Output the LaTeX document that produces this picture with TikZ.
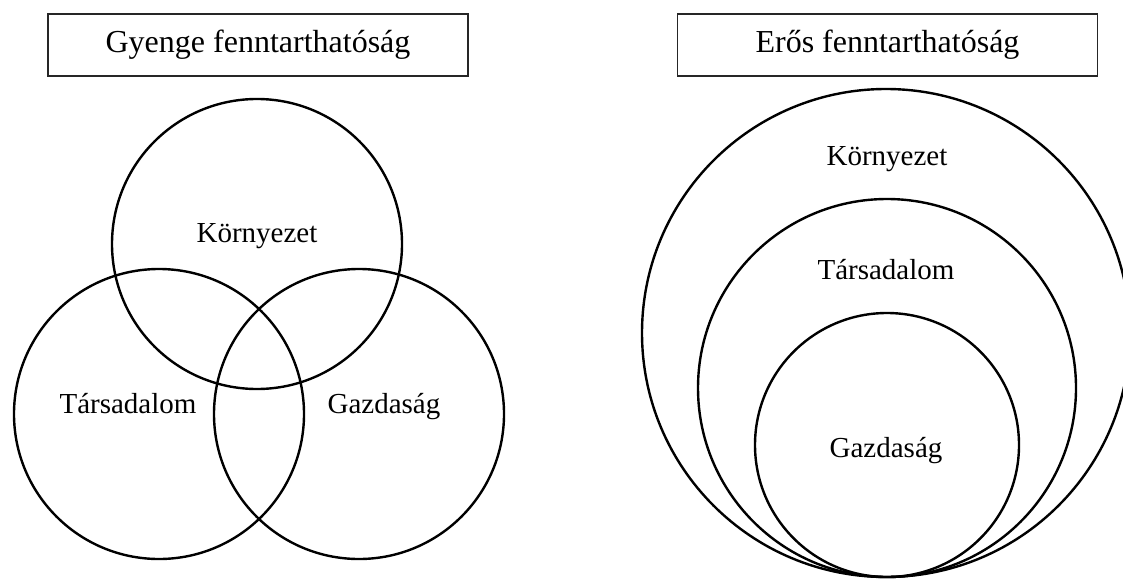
\documentclass[tikz,border=0pt]{standalone}
\usepackage{fontspec}
\setmainfont{Liberation Serif}
\begin{document}
\begin{tikzpicture}[x=1pt,y=-1pt,
  ring/.style={draw=black, line width=2.4pt, circle, inner sep=0pt},
  titlebox/.style={draw=black!85, line width=1.1pt, minimum width=420pt, minimum height=62pt, inner sep=0pt, font=\fontsize{32}{38}\selectfont},
  lbl/.style={font=\fontsize{29}{34}\selectfont, anchor=base, inner sep=0pt}]
\useasboundingbox (0,0) rectangle (1123,578);
\clip (0,0) rectangle (1123,578);
\fill[white] (0,0) rectangle (1123,578);

% left: weak sustainability
\node[titlebox] (weak) at (258,45) {Gyenge fenntarthatóság};
\node[ring, minimum size=290pt] (envL) at (257,244) {};
\node[ring, minimum size=290pt] (socL) at (159,414) {};
\node[ring, minimum size=290pt] (ecoL) at (359,414) {};
\node[lbl] (envLt) at (257,242) {Környezet};
\node[lbl] (socLt) at (128,413) {Társadalom};
\node[lbl] (ecoLt) at (384,413) {Gazdaság};

% right: strong sustainability
\node[titlebox] (strong) at (887.5,45) {Erős fenntarthatóság};
\node[ring, minimum size=488pt] (envR) at (886,333) {};
\node[ring, minimum size=378pt] (socR) at (887,388) {};
\node[ring, minimum size=264pt] (ecoR) at (887,445) {};
\node[lbl] (envRt) at (887,165) {Környezet};
\node[lbl] (socRt) at (886,279) {Társadalom};
\node[lbl] (ecoRt) at (886,457) {Gazdaság};
\end{tikzpicture}
\end{document}
